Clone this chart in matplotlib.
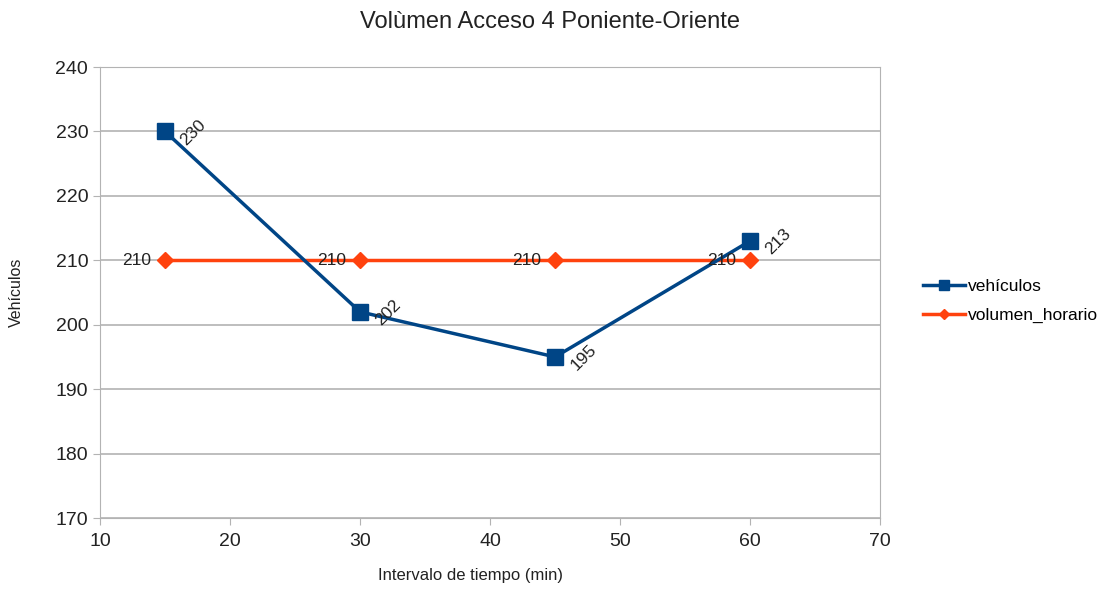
import matplotlib.pyplot as plt

plt.rcParams['font.family'] = ['Liberation Sans', 'DejaVu Sans']

# datos
intervalo = [15, 30, 45, 60]
vehiculos = [230, 202, 195, 213]
volumen_horario = [210, 210, 210, 210]

azul = '#004586'
naranja = '#ff420e'
texto = '#222222'

fig = plt.figure(figsize=(11.09, 5.9), dpi=100)
ax = fig.add_axes([0.0902, 0.122, 0.7034, 0.7644])

ax.plot(intervalo, vehiculos, color=azul, lw=2.5, marker='s', ms=11,
        label='vehículos', zorder=3)
ax.plot(intervalo, volumen_horario, color=naranja, lw=2.5, marker='D', ms=8,
        label='volumen_horario', zorder=2)

# etiquetas de datos
for x, y in zip(intervalo, vehiculos):
    ax.annotate(str(y), (x, y), xytext=(13, -8), textcoords='offset points',
                rotation=45, fontsize=12.5, color=texto, ha='left', va='center',
                rotation_mode='anchor')
for x, y in zip(intervalo, volumen_horario):
    ax.annotate(str(y), (x, y), xytext=(-10, 0), textcoords='offset points',
                fontsize=12.5, color=texto, ha='right', va='center')

ax.set_xlim(10, 70)
ax.set_ylim(170, 240)
ax.set_xticks(range(10, 71, 10))
ax.set_yticks(range(170, 241, 10))
ax.yaxis.grid(True, color='#b3b3b3', lw=1.2)
ax.set_axisbelow(True)
for s in ax.spines.values():
    s.set_color('#b3b3b3')
ax.tick_params(colors='#b3b3b3', labelcolor=texto, labelsize=14, length=5)
ax.tick_params(axis='x', pad=6)

fig.text(0.496, 0.963, 'Volùmen Acceso 4 Poniente-Oriente', fontsize=17,
         color=texto, ha='center', va='center')
ax.set_xlabel('Intervalo de tiempo (min)', fontsize=12, color=texto)
ax.xaxis.set_label_coords(0.475, -0.11)
ax.set_ylabel('Vehículos', fontsize=11.5, color=texto)
ax.yaxis.set_label_coords(-0.097, 0.5)

ax.legend(loc='center left', bbox_to_anchor=(1.035, 0.482), frameon=False,
          fontsize=12.5, handlelength=2.4, handletextpad=0.2, labelspacing=0.8,
          markerscale=0.7)

fig.savefig('out.png', dpi=100)
